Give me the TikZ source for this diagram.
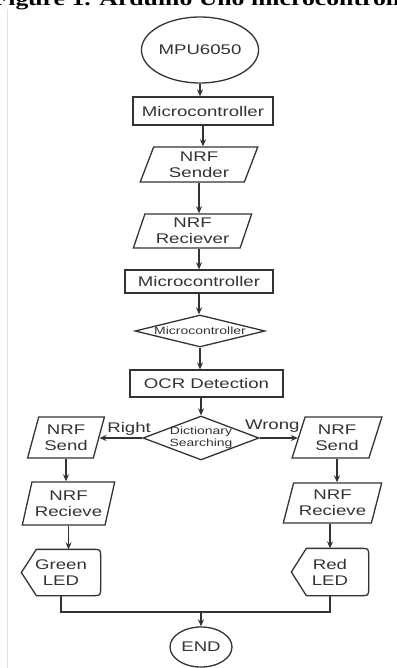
\documentclass[tikz,border=0pt]{standalone}
\usepackage{fontspec}
\usepackage{tikz}
\usetikzlibrary{arrows.meta, positioning, calc, shapes.geometric}
\newfontfamily\flowfont{Liberation Sans}[FakeStretch=1.33]
\newfontfamily\capfont{Liberation Serif}[FakeStretch=1.3]

\begin{document}
\begin{tikzpicture}[x=1pt, y=-1pt, line width=1.3pt,
    >={Stealth[length=7pt, width=6pt]},
    flow/.style={draw=black!80, text=black!80, align=center, inner sep=0pt,
        font=\flowfont\fontsize{14}{16}\selectfont},
    box/.style={flow, rectangle},
    io/.style={flow, trapezium, trapezium left angle=71, trapezium right angle=109,
        trapezium stretches=true},
    decide/.style={flow, diamond, aspect=3, inner sep=-3pt,
        font=\flowfont\fontsize{10.5}{12}\selectfont},
    term/.style={flow, ellipse},
    disp/.style={flow, draw=none},
    lbl/.style={text=black!80, inner sep=0pt, font=\flowfont\fontsize{14}{16}\selectfont},
    line/.style={draw=black!80},
    arr/.style={line, ->}]
    \useasboundingbox (0,0) rectangle (396,668);

    % Caption cut off at the top
    \begin{scope}
        \clip (0,0) rectangle (396,668);
        \node[anchor=base west, inner sep=0pt, font=\capfont\bfseries\fontsize{19.8}{19.8}\selectfont]
            (cap) at (-8,6) {Figure 1. Arduino Uno microcontroller};
    \end{scope}
    \draw[black!12, line width=0.8pt] (7,9) -- (7,668);

    % Main column
    \node[term, minimum width=114, minimum height=66] (mpu) at (200,50) {MPU6050};
    \node[box, minimum width=140, minimum height=28] (mc1) at (203,111) {Microcontroller};
    \node[io, minimum width=118, minimum height=35] (snd) at (199,164.5) {NRF\\Sender};
    \node[io, minimum width=119, minimum height=34] (rcv) at (192.5,231) {NRF\\Reciever};
    \node[box, minimum width=148, minimum height=23] (mc2) at (199,281.5) {Microcontroller};
    \node[decide, minimum width=130, minimum height=32] (chk) at (200,331) {Microcontroller};
    \node[box, minimum width=153, minimum height=27] (ocr) at (206.5,383.5) {OCR Detection};
    \node[decide, minimum width=116, minimum height=44] (dict) at (201,438) {Dictionary\\Searching};

    % Branches
    \node[io, minimum width=77, minimum height=41] (ls) at (66,437.5) {NRF\\Send};
    \node[io, minimum width=90, minimum height=41] (rs) at (337,437.5) {NRF\\Send};
    \node[io, minimum width=93, minimum height=43] (lr) at (68.5,503.5) {NRF\\Recieve};
    \node[io, minimum width=99, minimum height=40] (rr) at (332.5,503) {NRF\\Recieve};
    \node[disp, minimum width=78, minimum height=45] (gl) at (61,572.5) {Green\\LED};
    \node[disp, minimum width=76, minimum height=46] (rl) at (330,572) {Red\\LED};
    \coordinate (mrg) at (201,612);
    \node[term, minimum width=62, minimum height=40] (fin) at (201,647) {END};

    % Display shapes
    \foreach \led in {gl, rl} {
        \draw[line] (\led.west) -- ($(\led.north west)+(15,0)$)
            -- ($(\led.north east)+(-8,0)$) .. controls (\led.north east) .. ($(\led.north east)+(0,8)$)
            -- ($(\led.south east)+(0,-8)$) .. controls (\led.south east) .. ($(\led.south east)+(-8,0)$)
            -- ($(\led.south west)+(15,0)$) -- cycle;
    }

    % Connectors
    \draw[arr] (mpu.south) -- (mpu.south |- mc1.north);
    \draw[arr] (mc1.south) -- (mc1.south |- snd.north);
    \draw[arr] (snd.south) -- (snd.south |- rcv.north);
    \draw[arr] (rcv.south -| mc2.north) -- (mc2.north);
    \draw[arr] (mc2.south) -- (mc2.south |- chk.north);
    \draw[arr] (chk.south) -- (chk.south |- ocr.north);
    \draw[arr] (ocr.south -| dict.north) -- (dict.north);
    \draw[arr] (dict.west) -- (dict.west -| ls.east) node[lbl, pos=0.31, above=2pt] {Right};
    \draw[arr] (dict.east) -- (dict.east -| rs.west) node[lbl, pos=0.33, above=5pt] {Wrong};
    \draw[arr] (ls.south) -- (ls.south |- lr.north);
    \draw[arr] (rs.south) -- (rs.south |- rr.north);
    \draw[arr] (lr.south) -- (lr.south |- gl.north);
    \draw[arr] (rr.south -| rl.north) -- (rl.north);
    \draw[line] (gl.south) |- (mrg) -| (rl.south);
    \draw[arr] (mrg) -- (fin.north);
\end{tikzpicture}
\end{document}
